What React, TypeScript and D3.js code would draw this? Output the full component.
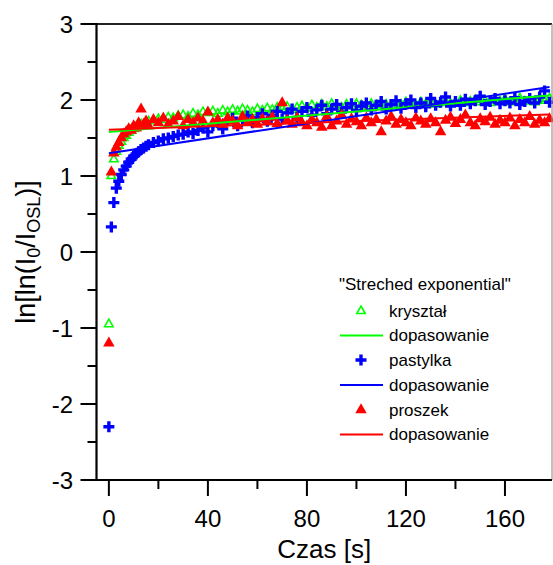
import React from "react";
import * as d3 from "d3";

// ---- data ----
const times = [
  0, 1, 2, 3, 4, 5, 6, 7, 8, 9, 10, 11, 12, 13, 14, 15, 16,
  18, 20, 22, 24, 26, 28, 30, 32, 34, 36, 38, 40, 42, 44, 46, 48, 50, 52, 54, 56, 58,
  60, 62, 64, 66, 68, 70, 72, 74, 76, 78, 80, 82, 84, 86, 88, 90, 92, 94, 96, 98,
  100, 102, 104, 106, 108, 110, 112, 114, 116, 118, 120, 122, 124, 126, 128, 130, 132, 134, 136, 138,
  140, 142, 144, 146, 148, 150, 152, 154, 156, 158, 160, 162, 164, 166, 168, 170, 172, 174, 176, 178,
];

const krysztal = [
  -0.95, 1.0, 1.22, 1.32, 1.4, 1.45, 1.5, 1.53, 1.57, 1.6, 1.62, 1.64, 1.66, 1.68, 1.67, 1.7, 1.72,
  1.73, 1.75, 1.74, 1.77, 1.76, 1.79, 1.8, 1.78, 1.82, 1.8, 1.84, 1.83, 1.85, 1.82, 1.86, 1.84, 1.87, 1.85, 1.88, 1.86, 1.84,
  1.88, 1.86, 1.89, 1.87, 1.9, 1.88, 1.91, 1.87, 1.9, 1.92, 1.89, 1.93, 1.9, 1.94, 1.91, 1.95, 1.92, 1.9, 1.94, 1.92,
  1.95, 1.93, 1.91, 1.95, 1.93, 1.96, 1.94, 1.92, 1.96, 1.94, 1.97, 1.95, 1.93, 1.97, 1.95, 1.98, 1.94, 1.96, 1.98, 1.95,
  1.97, 1.99, 1.96, 1.98, 2.0, 1.97, 1.99, 1.96, 2.0, 1.98, 2.01, 1.97, 1.99, 2.02, 1.98, 2.0, 1.97, 2.01, 1.99, 2.02,
];

const pastylka = [
  -2.3, 0.33, 0.65, 0.84, 0.93, 1.02, 1.08, 1.13, 1.18, 1.22, 1.26, 1.29, 1.32, 1.35, 1.37, 1.39, 1.41,
  1.44, 1.46, 1.49, 1.5, 1.52, 1.54, 1.55, 1.58, 1.56, 1.6, 1.63, 1.58, 1.66, 1.7, 1.62, 1.73, 1.76, 1.66, 1.74, 1.79, 1.7,
  1.77, 1.82, 1.72, 1.8, 1.85, 1.75, 1.83, 1.88, 1.77, 1.85, 1.9, 1.8, 1.87, 1.93, 1.82, 1.88, 1.94, 1.84, 1.9, 1.95,
  1.86, 1.92, 1.96, 1.87, 1.93, 1.98, 1.88, 1.94, 1.99, 1.89, 1.95, 2.0, 1.9, 1.96, 1.91, 2.02, 1.93, 1.97, 2.04, 1.92,
  1.98, 1.93, 2.01, 1.95, 1.99, 2.05, 1.94, 1.98, 2.02, 1.95, 1.99, 1.96, 2.03, 1.94, 1.98, 2.02, 1.96, 2.04, 2.12, 1.97,
];

const proszek = [
  -1.2, 1.05, 1.3, 1.38, 1.44, 1.5, 1.55, 1.58, 1.62, 1.6, 1.66, 1.63, 1.7, 1.88, 1.68, 1.72, 1.66,
  1.74, 1.7, 1.76, 1.68, 1.72, 1.78, 1.66, 1.74, 1.7, 1.76, 1.72, 1.84, 1.7, 1.74, 1.68, 1.76, 1.72, 1.66, 1.78, 1.7, 1.74,
  1.68, 1.75, 1.71, 1.77, 1.69, 1.96, 1.73, 1.68, 1.76, 1.7, 1.66, 1.74, 1.7, 1.64, 1.78, 1.66, 1.72, 1.8, 1.68, 1.75,
  1.71, 1.66, 1.76, 1.7, 1.74, 1.58, 1.72, 1.78, 1.68, 1.74, 1.7, 1.66, 1.76, 1.72, 1.68, 1.75, 1.7, 1.58, 1.73, 1.77,
  1.69, 1.74, 1.8, 1.7, 1.66, 1.75, 1.71, 1.77, 1.68, 1.73, 1.7, 1.76, 1.66, 1.74, 1.7, 1.78, 1.68, 1.73, 1.7, 1.75,
];

const fitTimes = [0, 178];
const fitKrysztal = [1.58, 2.06];
const fitPastylka = [1.3, 2.17];
const fitProszek = [1.61, 1.81];

const xMajorTicks = [0, 40, 80, 120, 160];
const xMinorTicks = [20, 60, 100, 140];
const yMajorTicks = [-3, -2, -1, 0, 1, 2, 3];
const yMinorTicks = [-2.5, -1.5, -0.5, 0.5, 1.5, 2.5];

const legendTitle = '"Streched exponential"';
const legendLabels = ["kryształ", "dopasowanie", "pastylka", "dopasowanie", "proszek", "dopasowanie"];

// ---- styling ----
const GREEN = "#00ff00";
const BLUE = "#0000ff";
const RED = "#ff0000";
const FONT = "'Liberation Sans', Arial, sans-serif";

const W = 553;
const H = 565;
const left = 96.5;
const right = 552;
const top = 24;
const bottom = 480;

const x = d3.scaleLinear().domain([-5, 179]).range([left, right]);
const y = d3.scaleLinear().domain([-3, 3]).range([bottom, top]);

const triPath = (w: number, h: number) =>
  `M0,${(-2 * h) / 3}L${w / 2},${h / 3}L${-w / 2},${h / 3}Z`;
const plusPath = (s: number) => `M${-s / 2},0H${s / 2}M0,${-s / 2}V${s / 2}`;

const lineGen = d3
  .line<[number, number]>()
  .x((d) => x(d[0]))
  .y((d) => y(d[1]));

function Markers({ values, kind }: { values: number[]; kind: string }) {
  return (
    <g>
      {values.map((v, i) => {
        const tx = x(times[i]);
        const ty = y(v);
        if (kind === "green")
          return (
            <path key={i} d={triPath(8.5, 7.5)} transform={`translate(${tx},${ty})`} fill="none" stroke={GREEN} strokeWidth={1.6} />
          );
        if (kind === "blue")
          return (
            <path key={i} d={plusPath(11)} transform={`translate(${tx},${ty})`} fill="none" stroke={BLUE} strokeWidth={3.4} />
          );
        return <path key={i} d={triPath(11.5, 10)} transform={`translate(${tx},${ty})`} fill={RED} />;
      })}
    </g>
  );
}

export default function App() {
  const fitLine = (vals: number[]) =>
    lineGen(fitTimes.map((t, i) => [t, vals[i]] as [number, number])) || "";

  const legendX = 340;
  const legendRows = [311, 335.5, 360, 385, 410, 434.5];

  return (
    <svg width={W} height={H} style={{ position: "absolute", left: 0, top: 0 }} fontFamily={FONT}>
      <rect x={0} y={0} width={W} height={H} fill="#fff" />

      {/* data */}
      <Markers values={krysztal} kind="green" />
      <Markers values={pastylka} kind="blue" />
      <Markers values={proszek} kind="red" />

      {/* fits */}
      <path d={fitLine(fitKrysztal)} stroke={GREEN} strokeWidth={2} fill="none" />
      <path d={fitLine(fitPastylka)} stroke={BLUE} strokeWidth={2} fill="none" />
      <path d={fitLine(fitProszek)} stroke={RED} strokeWidth={2} fill="none" />

      {/* frame */}
      <line x1={left} x2={right} y1={top} y2={top} stroke="#222" strokeWidth={2} />
      <line x1={right} x2={right} y1={top} y2={bottom} stroke="#999" strokeWidth={1.2} />
      <line x1={left} x2={left} y1={top - 1} y2={bottom + 1} stroke="#000" strokeWidth={2.2} />
      <line x1={left - 1} x2={right} y1={bottom} y2={bottom} stroke="#000" strokeWidth={2.2} />

      {/* y ticks */}
      {yMajorTicks.map((t) => (
        <g key={"ym" + t}>
          <line x1={left - 16} x2={left} y1={y(t)} y2={y(t)} stroke="#000" strokeWidth={2} />
          <text x={73} y={y(t) + 8.5} textAnchor="end" fontSize={24}>
            {t}
          </text>
        </g>
      ))}
      {yMinorTicks.map((t) => (
        <line key={"yn" + t} x1={left - 9} x2={left} y1={y(t)} y2={y(t)} stroke="#000" strokeWidth={2} />
      ))}

      {/* x ticks */}
      {xMajorTicks.map((t) => (
        <g key={"xm" + t}>
          <line x1={x(t)} x2={x(t)} y1={bottom} y2={bottom + 16} stroke="#000" strokeWidth={2} />
          <text x={x(t)} y={527} textAnchor="middle" fontSize={24}>
            {t}
          </text>
        </g>
      ))}
      {xMinorTicks.map((t) => (
        <line key={"xn" + t} x1={x(t)} x2={x(t)} y1={bottom} y2={bottom + 9} stroke="#000" strokeWidth={2} />
      ))}

      {/* axis titles */}
      <text x={(left + right) / 2} y={558} textAnchor="middle" fontSize={26}>
        Czas [s]
      </text>
      <text transform={`translate(35,252) rotate(-90)`} textAnchor="middle" fontSize={27}>
        ln[ln(I
        <tspan fontSize={18} dy={5}>0</tspan>
        <tspan dy={-5}>/I</tspan>
        <tspan fontSize={18} dy={5}>OSL</tspan>
        <tspan dy={-5}>)]</tspan>
      </text>

      {/* legend */}
      <text x={339} y={290} fontSize={17}>
        {legendTitle}
      </text>
      {legendLabels.map((lab, i) => (
        <text key={"ll" + i} x={389} y={legendRows[i] + 5.5} fontSize={17}>
          {lab}
        </text>
      ))}
      <path d={triPath(8.5, 7.5)} transform={`translate(361,${legendRows[0]})`} fill="none" stroke={GREEN} strokeWidth={1.6} />
      <line x1={legendX} x2={legendX + 43} y1={legendRows[1]} y2={legendRows[1]} stroke={GREEN} strokeWidth={2} />
      <path d={plusPath(11)} transform={`translate(361,${legendRows[2]})`} fill="none" stroke={BLUE} strokeWidth={3.4} />
      <line x1={legendX} x2={legendX + 43} y1={legendRows[3]} y2={legendRows[3]} stroke={BLUE} strokeWidth={2} />
      <path d={triPath(11.5, 10)} transform={`translate(361,${legendRows[4]})`} fill={RED} />
      <line x1={legendX} x2={legendX + 43} y1={legendRows[5]} y2={legendRows[5]} stroke={RED} strokeWidth={2} />
    </svg>
  );
}
